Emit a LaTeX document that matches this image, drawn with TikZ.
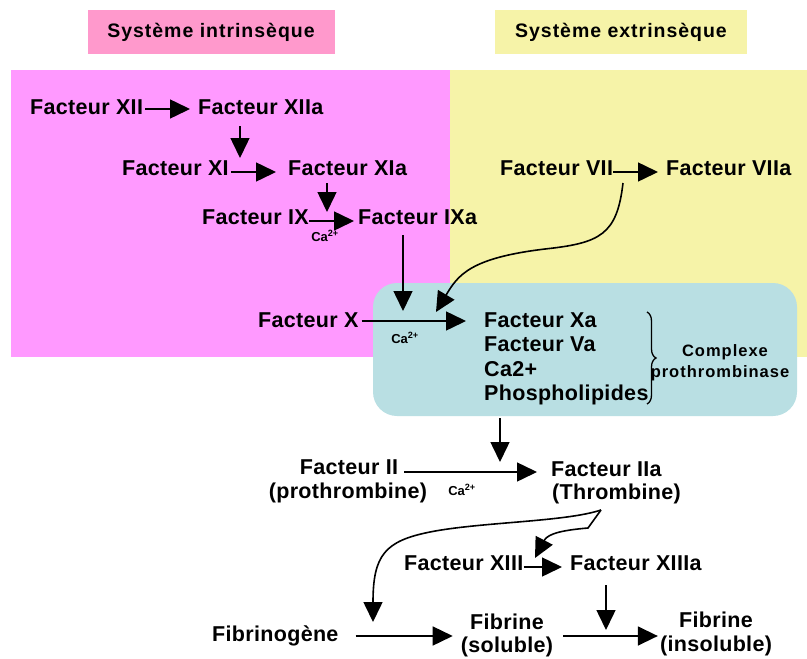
\documentclass[tikz,border=0pt]{standalone}
\usepackage{fontspec}
\setmainfont{Liberation Sans}
\usetikzlibrary{arrows.meta,calc,decorations.pathreplacing}
\definecolor{pinkreg}{HTML}{FF99FF}
\definecolor{pinklab}{HTML}{FF99CC}
\definecolor{yelreg}{HTML}{F6F3A8}
\definecolor{tealbox}{HTML}{B9DFE3}
\tikzset{
  lbl/.style={font=\bfseries\fontsize{21.5}{25}\selectfont\addfontfeatures{LetterSpace=1.5}, inner sep=0pt},
  title/.style={font=\bfseries\fontsize{19.5}{23}\selectfont\addfontfeatures{LetterSpace=5}, inner sep=0pt},
  small/.style={font=\bfseries\fontsize{13}{14}\selectfont, inner sep=0pt},
  cplx/.style={font=\bfseries\fontsize{16.5}{19}\selectfont\addfontfeatures{LetterSpace=6}, inner sep=0pt},
  arr/.style={-{Triangle[length=20pt,width=19pt]}, line width=1.5pt},
  curv/.style={-{Triangle[length=20pt,width=19pt]}, line width=1.6pt},
}
\begin{document}
\begin{tikzpicture}[x=1pt,y=-1pt]
\useasboundingbox (0,0) rectangle (807,659);
% backgrounds
\fill[pinkreg] (11,70) rectangle (450,357);
\fill[yelreg] (450,70) rectangle (807,357);
\fill[pinklab] (88,10) rectangle (335,54);
\fill[yelreg] (495,10) rectangle (747,54);
\fill[tealbox, rounded corners=24pt] (373,283) rectangle (797,416);
\node[title] (tint) at (211,32) {Système intrinsèque};
\node[title] (text) at (621,32) {Système extrinsèque};
% intrinsic
\node[lbl, anchor=west] (xii) at (30,107) {Facteur XII};
\node[lbl, anchor=west] (xiia) at (198,107) {Facteur XIIa};
\node[lbl, anchor=west] (xi) at (122,168) {Facteur XI};
\node[lbl, anchor=west] (xia) at (288,168) {Facteur XIa};
\node[lbl, anchor=west] (ix) at (202,217) {Facteur IX};
\node[lbl, anchor=west] (ixa) at (358,217) {Facteur IXa};
\node[small] (ca1) at (325,236) {Ca\textsuperscript{2+}};
% extrinsic
\node[lbl, anchor=west] (vii) at (500,168) {Facteur VII};
\node[lbl, anchor=west] (viia) at (666,168) {Facteur VIIa};
% X
\node[lbl, anchor=west] (x) at (258,320) {Facteur X};
\node[small] (ca2) at (405,338) {Ca\textsuperscript{2+}};
\node[lbl, anchor=west] (xa) at (484,320) {Facteur Xa};
\node[lbl, anchor=west] (va) at (484,344) {Facteur Va};
\node[lbl, anchor=west] (cap) at (484,369) {Ca2+};
\node[lbl, anchor=west] (phos) at (484,395) {Phospholipides};
\node[cplx] (cx1) at (725,352) {Complexe};
\node[cplx] (cx2) at (720,373) {prothrombinase};
\draw[line width=1.3pt, decorate, decoration={brace, amplitude=9pt}] (647,312) -- (647,404);
% II
\node[lbl] (ii1) at (349,467) {Facteur II};
\node[lbl] (ii2) at (348,493) {(prothrombine)};
\node[small] (ca3) at (462,490) {Ca\textsuperscript{2+}};
\node[lbl, anchor=west] (iia1) at (551,469) {Facteur IIa};
\node[lbl, anchor=west] (iia2) at (552,494) {(Thrombine)};
% XIII
\node[lbl, anchor=west] (xiii) at (404,563) {Facteur XIII};
\node[lbl, anchor=west] (xiiia) at (570,563) {Facteur XIIIa};
% fibrin
\node[lbl, anchor=west] (fibg) at (212,636) {Fibrinogène};
\node[lbl] (fs1) at (507,622) {Fibrine};
\node[lbl] (fs2) at (507,647) {(soluble)};
\node[lbl] (fi1) at (716,620) {Fibrine};
\node[lbl] (fi2) at (716,646) {(insoluble)};
% coordinates
\coordinate (c1s) at (240,126); \coordinate (c1e) at (240,158);
\coordinate (c2s) at (327,183); \coordinate (c2e) at (327,212);
\coordinate (c3s) at (403,235); \coordinate (c3e) at (403,311);
\coordinate (c4s) at (623,183); \coordinate (c4e) at (436,312);
\coordinate (c5s) at (500,418); \coordinate (c5e) at (500,462);
\coordinate (thr) at (601,510);
\coordinate (c6e) at (373,622);
\coordinate (c7e) at (535,558);
\coordinate (c8s) at (606,585); \coordinate (c8e) at (606,630);
% arrows
\draw[arr] ([xshift=2pt,yshift=-2pt]xii.east) -- ([xshift=-8pt,yshift=-2pt]xiia.west);
\draw[arr] (c1s) -- (c1e);
\draw[arr] ([xshift=2pt,yshift=-4pt]xi.east) -- ([xshift=-12pt,yshift=-4pt]xia.west);
\draw[arr] (c2s) -- (c2e);
\draw[arr] ([yshift=-4pt]ix.east) -- ([xshift=-4pt,yshift=-4pt]ixa.west);
\draw[arr] (c3s) -- (c3e);
\draw[arr] ([yshift=-4pt]vii.east) -- ([xshift=-8pt,yshift=-4pt]viia.west);
\draw[curv] (c4s) .. controls (617,235) and (600,243) .. (545,249)
   .. controls (470,258) and (458,275) .. (c4e);
\draw[arr] ([xshift=3pt,yshift=-1pt]x.east) -- ([xshift=-18pt,yshift=-1pt]xa.west);
\draw[arr] (c5s) -- (c5e);
\draw[arr] ([xshift=6pt,yshift=-5pt]ii1.east) -- ([xshift=-14pt,yshift=-3pt]iia1.west);
\draw[curv] (thr) .. controls (565,522) and (480,522) .. (430,532)
   .. controls (385,541) and (373,555) .. (c6e);
\draw[curv] (thr) -- (588,528) .. controls (565,530) and (548,533) .. (c7e);
\draw[arr] ([yshift=-4pt]xiii.east) -- ([xshift=-8pt,yshift=-4pt]xiiia.west);
\draw[arr] (c8s) -- (c8e);
\draw[arr] ([xshift=17pt]fibg.east) -- ([xshift=-8pt]fs2.west |- fibg.east);
\draw[arr] ([xshift=10pt]fs2.east |- fibg.east) -- ([xshift=-2pt]fi2.west |- fibg.east);
\end{tikzpicture}
\end{document}
